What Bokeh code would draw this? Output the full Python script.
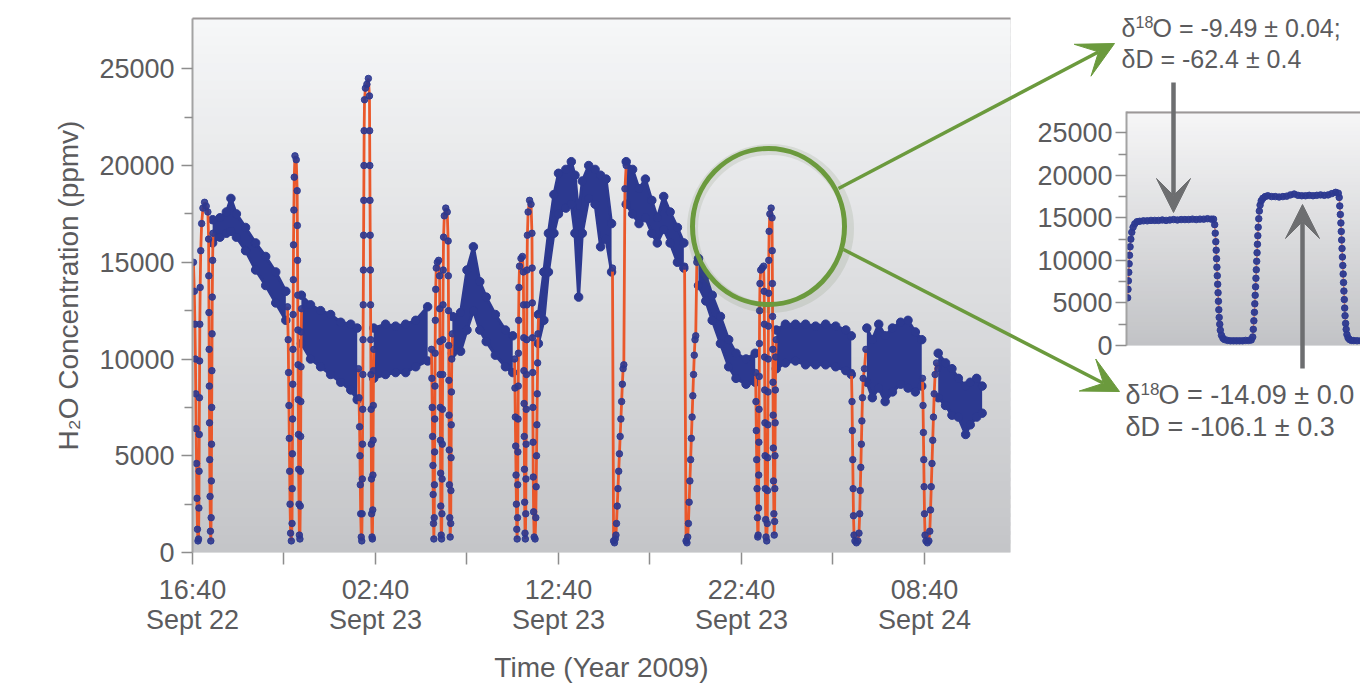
from bokeh.plotting import figure
from bokeh.models import Range1d, FixedTicker, Arrow, VeeHead, Spacer, GridBox
from bokeh.layouts import row, column
from bokeh.embed import file_html
from bokeh.resources import INLINE
from bokeh.core.properties import value

# ---------------- data ----------------
x_ticks = [0, 10, 20, 30, 40]
x_minor = [5, 15, 25, 35]
x_labels = ["16:40\nSept 22", "02:40\nSept 23", "12:40\nSept 23", "22:40\nSept 23", "08:40\nSept 24"]
y_ticks = [0, 5000, 10000, 15000, 20000, 25000]
y_minor = [2500, 7500, 12500, 17500, 22500]

# ambient air band: (hours after 16:40 Sept 22, upper edge, lower edge) in ppmv
ambient = [
    (1.10, 17200, 16000), (1.50, 17300, 16300), (1.85, 17600, 16500), (2.10, 18300, 16600),
    (2.40, 17500, 16300), (2.90, 16800, 15600), (3.45, 16000, 14600), (4.00, 15300, 13800),
    (4.55, 14500, 12900), (5.10, 13500, 12000),
    (5.95, 13300, 10800), (6.45, 12800, 10000), (7.00, 12500, 9600), (7.55, 12300, 9200),
    (8.10, 11900, 8800), (8.65, 11800, 8400), (9.00, 11600, 7900),
    (9.90, 11600, 9000), (10.55, 11800, 9200), (11.10, 11700, 9300), (11.65, 11800, 9300),
    (12.20, 12000, 9600), (12.85, 12700, 9900),
    (14.20, 12200, 10300), (14.65, 12400, 10400), (15.00, 14600, 11500), (15.35, 15800, 12500),
    (15.70, 14000, 11500), (16.05, 13200, 10900), (16.55, 12300, 10200), (17.10, 11500, 9600),
    (17.50, 11200, 9300),
    (18.90, 12300, 10800), (19.20, 14500, 12000), (19.45, 16500, 14500), (19.75, 18500, 16500),
    (20.00, 19600, 17500), (20.40, 19800, 17800), (20.70, 20200, 18000), (20.90, 19500, 16500),
    (21.10, 17500, 13200), (21.30, 19200, 16500), (21.65, 20000, 18300), (22.00, 19800, 18000),
    (22.30, 19500, 15800), (22.60, 19300, 16200), (22.90, 17000, 14500),
    (23.70, 20200, 18000), (24.05, 19800, 17500), (24.40, 18800, 17000), (24.75, 19300, 17300),
    (25.10, 18200, 16500), (25.40, 17300, 16000), (25.75, 18400, 16700), (26.10, 17600, 16000),
    (26.50, 16800, 15000), (26.85, 16000, 14700),
    (27.65, 15200, 13800), (28.05, 14300, 13000), (28.40, 13300, 12000), (28.85, 12200, 10800),
    (29.30, 11000, 9600), (29.70, 10300, 9000), (30.25, 10000, 8700), (30.75, 10300, 8800),
    (31.90, 11500, 9500), (32.40, 11800, 9800), (32.95, 11800, 9900), (33.50, 11800, 9700),
    (34.05, 11700, 9700), (34.60, 11800, 9700), (35.15, 11700, 9600), (35.70, 11500, 9400),
    (36.00, 11200, 9200),
    (36.85, 11600, 8800), (37.15, 11000, 8000), (37.50, 11800, 8500), (37.85, 11200, 7800),
    (38.25, 11600, 8300), (38.70, 11900, 8700), (39.10, 12000, 8500), (39.50, 11400, 8300),
    (39.85, 11000, 8600),
    (40.75, 10300, 8000), (41.15, 9800, 7600), (41.50, 9500, 7100), (41.85, 9000, 7000),
    (42.25, 8600, 6100), (42.50, 8800, 6600), (42.85, 9000, 7000), (43.15, 8600, 7200),
]

# calibration events: (hours, ppmv)
evA = [(0.05, 15000), (0.10, 13500), (0.13, 11800), (0.16, 10000), (0.18, 8200), (0.20, 6400),
       (0.22, 4600), (0.24, 2800), (0.27, 1200), (0.30, 600), (0.33, 700), (0.35, 2300),
       (0.36, 4200), (0.37, 6100), (0.38, 8000), (0.39, 9900), (0.40, 11800), (0.42, 13700),
       (0.45, 15600), (0.50, 17000), (0.57, 17800), (0.66, 18100), (0.75, 17900), (0.84, 17600),
       (0.88, 16200), (0.89, 14300), (0.90, 12400), (0.91, 10500), (0.92, 8600), (0.93, 6700),
       (0.94, 4800), (0.96, 2900), (0.98, 1100), (1.00, 600), (1.02, 1800), (1.03, 3700),
       (1.04, 5600), (1.05, 7500), (1.06, 9400), (1.07, 11300), (1.08, 13200), (1.10, 15100),
       (1.12, 16500)]
evB = [(5.19, 12700), (5.23, 11000), (5.25, 9300), (5.27, 7600), (5.29, 5900), (5.31, 4200),
       (5.33, 2500), (5.36, 1000), (5.40, 600), (5.44, 1500), (5.45, 3300), (5.46, 5100),
       (5.47, 6900), (5.48, 8700), (5.49, 10500), (5.50, 12300), (5.51, 14100), (5.52, 15900),
       (5.54, 17700), (5.56, 19400), (5.60, 20500), (5.67, 20300), (5.72, 18700), (5.73, 16900),
       (5.74, 15100), (5.75, 13300), (5.76, 11500), (5.77, 9700), (5.78, 7900), (5.79, 6100),
       (5.80, 4300), (5.82, 2500), (5.84, 900), (5.87, 700), (5.89, 2400), (5.90, 4200),
       (5.91, 6000), (5.92, 7800), (5.93, 9600), (5.94, 11400), (5.96, 12600)]
evC = [(9.07, 9500), (9.10, 8000), (9.13, 6500), (9.15, 5000), (9.17, 3500), (9.19, 2000),
       (9.22, 800), (9.25, 600), (9.27, 2000), (9.28, 3800), (9.29, 5600), (9.30, 7400),
       (9.31, 9200), (9.32, 11000), (9.33, 12800), (9.34, 14600), (9.35, 16400), (9.36, 18200),
       (9.37, 20000), (9.38, 21800), (9.40, 23400), (9.45, 24000), (9.53, 24200), (9.61, 24500),
       (9.67, 23600), (9.68, 21800), (9.69, 20000), (9.70, 18200), (9.71, 16400), (9.72, 14600),
       (9.73, 12800), (9.74, 11000), (9.75, 9200), (9.76, 7400), (9.77, 5600), (9.78, 3800),
       (9.79, 2000), (9.81, 800), (9.83, 700), (9.85, 2200), (9.86, 4000), (9.87, 5800),
       (9.88, 7600), (9.89, 9400), (9.91, 10500)]
evD = [(13.06, 10500), (13.08, 9000), (13.10, 7500), (13.12, 6000), (13.14, 4500), (13.15, 3000),
       (13.17, 1500), (13.19, 700), (13.21, 1800), (13.22, 3500), (13.23, 5200), (13.24, 6900),
       (13.25, 8600), (13.26, 10300), (13.27, 12000), (13.29, 13600), (13.32, 14700),
       (13.38, 15000), (13.45, 15100), (13.50, 14300), (13.51, 12600), (13.52, 10900),
       (13.53, 9200), (13.54, 7500), (13.55, 5800), (13.56, 4100), (13.57, 2400), (13.59, 900),
       (13.61, 700), (13.63, 2000), (13.64, 3800), (13.65, 5600), (13.66, 7400), (13.67, 9200),
       (13.68, 11000), (13.69, 12800), (13.70, 14600), (13.72, 16300), (13.76, 17400),
       (13.84, 17800), (13.92, 17600), (13.97, 16100), (13.98, 14300), (13.99, 12500),
       (14.00, 10700), (14.01, 8900), (14.02, 7100), (14.03, 5300), (14.04, 3500), (14.06, 1800),
       (14.08, 800), (14.11, 1500), (14.12, 3200), (14.13, 4900), (14.14, 6600), (14.15, 8300),
       (14.17, 10000), (14.20, 11300)]
evE = [(17.60, 10000), (17.62, 8500), (17.64, 7000), (17.66, 5500), (17.68, 4000), (17.70, 2500),
       (17.72, 1200), (17.74, 700), (17.76, 1800), (17.77, 3500), (17.78, 5200), (17.79, 6900),
       (17.80, 8600), (17.81, 10300), (17.82, 12000), (17.84, 13700), (17.87, 14800),
       (17.95, 15200), (18.03, 15300), (18.08, 14500), (18.09, 12800), (18.10, 11100),
       (18.11, 9400), (18.12, 7700), (18.13, 6000), (18.14, 4300), (18.15, 2600), (18.17, 1000),
       (18.19, 700), (18.21, 2000), (18.22, 3800), (18.23, 5600), (18.24, 7400), (18.25, 9200),
       (18.26, 11000), (18.27, 12800), (18.28, 14600), (18.30, 16400), (18.34, 17600),
       (18.42, 18200), (18.50, 18000), (18.55, 16500), (18.56, 14700), (18.57, 12900),
       (18.58, 11100), (18.59, 9300), (18.60, 7500), (18.61, 5700), (18.62, 3900), (18.64, 2100),
       (18.67, 800), (18.72, 700), (18.76, 1800), (18.78, 3400), (18.80, 5000), (18.82, 6600),
       (18.84, 8200), (18.86, 9800), (18.88, 11300), (18.91, 12300)]
evF = [(22.95, 14700), (23.01, 600), (23.06, 500), (23.10, 700), (23.14, 900), (23.17, 1500),
       (23.21, 2400), (23.25, 3300), (23.29, 4200), (23.33, 5100), (23.37, 6000), (23.41, 6900),
       (23.45, 7800), (23.49, 8700), (23.53, 9500), (23.57, 9700), (23.63, 18800), (23.70, 20000)]
evG = [(26.89, 14800), (26.97, 600), (27.02, 500), (27.06, 800), (27.10, 1500), (27.14, 2600),
       (27.18, 3700), (27.22, 4800), (27.26, 5900), (27.30, 7000), (27.34, 8100), (27.38, 9200),
       (27.42, 10200), (27.46, 11000), (27.50, 11200), (27.56, 15000), (27.63, 15200)]
evH = [(30.77, 9300), (30.79, 7800), (30.81, 6300), (30.83, 4800), (30.85, 3300), (30.87, 1800),
       (30.89, 800), (30.91, 900), (30.93, 2300), (30.94, 4000), (30.95, 5700), (30.96, 7400),
       (30.97, 9100), (30.98, 10800), (30.99, 12500), (31.01, 13900), (31.05, 14600),
       (31.13, 14700), (31.21, 14800), (31.24, 13500), (31.25, 11800), (31.26, 10100),
       (31.27, 8400), (31.28, 6700), (31.29, 5000), (31.30, 3300), (31.32, 1700), (31.34, 800),
       (31.38, 600), (31.41, 1500), (31.42, 3200), (31.43, 4900), (31.44, 6600), (31.45, 8300),
       (31.46, 10000), (31.47, 11700), (31.48, 13400), (31.49, 15100), (31.51, 16600),
       (31.55, 17500), (31.62, 17800), (31.67, 17300), (31.68, 15600), (31.69, 13900),
       (31.70, 12200), (31.71, 10500), (31.72, 8800), (31.73, 7100), (31.74, 5400), (31.75, 3700),
       (31.77, 2000), (31.79, 900), (31.81, 1600), (31.82, 3300), (31.83, 5000), (31.84, 6700),
       (31.85, 8400), (31.87, 10100), (31.90, 11000)]
evI = [(36.01, 9300), (36.04, 7800), (36.06, 6300), (36.08, 4800), (36.10, 3300), (36.12, 1900),
       (36.15, 900), (36.20, 600), (36.28, 500), (36.36, 600), (36.42, 1000), (36.46, 2000),
       (36.49, 3200), (36.52, 4400), (36.55, 5600), (36.58, 6800), (36.61, 8000), (36.65, 9000),
       (36.72, 9500), (36.80, 10500)]
evJ = [(39.89, 9000), (39.92, 7600), (39.94, 6200), (39.96, 4800), (39.98, 3400), (40.00, 2000),
       (40.03, 900), (40.08, 600), (40.16, 500), (40.24, 600), (40.29, 1100), (40.33, 2200),
       (40.37, 3400), (40.41, 4600), (40.45, 5800), (40.49, 7000), (40.53, 8200), (40.58, 9200),
       (40.66, 9800), (40.74, 9500)]

# inset (zoom on the 22:40 calibration): (minutes, ppmv)
inset_data = [
    (0.3, 5600), (0.4, 6600), (0.5, 7600), (0.6, 8600), (0.7, 9600), (0.8, 10600), (0.95, 11600),
    (1.15, 12500), (1.4, 13300), (1.75, 13900), (2.2, 14300), (2.8, 14550),
    (3.5, 14600), (4.5, 14650), (5.5, 14650), (6.5, 14700), (7.5, 14700), (8.5, 14700),
    (9.5, 14750), (10.5, 14700), (11.5, 14750), (12.5, 14800), (13.5, 14750), (14.5, 14800),
    (15.5, 14800), (16.5, 14800), (17.5, 14850), (18.5, 14800), (19.5, 14850), (20.5, 14850),
    (21.5, 14900), (22.5, 14850), (23.1, 14850),
    (23.4, 14200), (23.55, 13200), (23.7, 12200), (23.8, 11200), (23.9, 10200), (24.0, 9200),
    (24.1, 8200), (24.2, 7200), (24.3, 6200), (24.4, 5200), (24.5, 4200), (24.6, 3300),
    (24.75, 2500), (24.9, 1800), (25.2, 1200), (25.6, 850),
    (26.0, 700), (26.8, 600), (27.6, 550), (28.4, 550), (29.2, 550), (30.0, 550), (30.8, 550),
    (31.6, 600), (32.4, 600), (33.1, 650),
    (33.5, 1000), (33.65, 1900), (33.8, 2900), (33.95, 3900), (34.05, 4900), (34.15, 5900),
    (34.25, 6900), (34.35, 7900), (34.45, 8900), (34.55, 9900), (34.65, 10900), (34.75, 11900),
    (34.85, 12900), (34.95, 13900), (35.1, 14900), (35.25, 15800), (35.45, 16500),
    (35.75, 17000), (36.2, 17300), (36.8, 17500),
    (37.5, 17600), (38.5, 17500), (39.5, 17500), (40.5, 17450), (41.5, 17500), (42.5, 17550),
    (43.5, 17700), (44.5, 17800), (45.5, 17650), (46.5, 17600), (47.5, 17600), (48.5, 17650),
    (49.5, 17600), (50.5, 17650), (51.5, 17700), (52.5, 17650), (53.5, 17700), (54.5, 17850),
    (55.5, 18000), (56.2, 17900),
    (56.45, 17400), (56.6, 16400), (56.75, 15400), (56.9, 14400), (57.0, 13400), (57.1, 12400),
    (57.2, 11400), (57.3, 10400), (57.4, 9400), (57.5, 8400), (57.6, 7400), (57.7, 6400),
    (57.8, 5400), (57.9, 4400), (58.0, 3500), (58.15, 2600), (58.3, 1900), (58.5, 1300),
    (58.8, 900), (59.2, 700), (59.7, 600), (60.3, 580), (61.2, 560), (62.2, 560),
]

# annotation texts: prefix, superscript, rest of line
notes_top = [("δ", "18", "O = -9.49 ± 0.04;"), ("δD = -62.4 ± 0.4", "", "")]
notes_bottom = [("δ", "18", "O = -14.09 ± 0.0"), ("δD = -106.1 ± 0.3", "", "")]
x_title = "Time (Year 2009)"
y_title = "H₂O Concentration (ppmv)"

# ---------------- styles ----------------
NAVY = "#2c3990"
RED = "#ea582b"
TXT = "#5b5b5d"
TICK = "#8d8d8d"
GREEN = "#6b9a3d"
GRAY = "#6d6e70"
FONT = "Liberation Sans"
XMAX = 44.7
YMAX = 27600
IN_XMAX = 62.1
IN_YMAX = 27500


def gradient(fig, xmax, ymax, top_rgb, bot_rgb, n=60):
    bottoms, tops, cols = [], [], []
    for i in range(n):
        f = (i + 0.5) / n
        c = tuple(int(round(b + (t - b) * f)) for t, b in zip(top_rgb, bot_rgb))
        bottoms.append(ymax * i / n)
        tops.append(ymax * (i + 1.4) / n)
        cols.append("#%02x%02x%02x" % c)
    fig.quad(left=0, right=xmax, bottom=bottoms, top=tops, fill_color=cols, line_color=None)


def style_yaxis(ax):
    ax.ticker = FixedTicker(ticks=y_ticks, minor_ticks=y_minor)
    ax.axis_line_color = "#a3a3a3"
    ax.axis_line_width = 2
    ax.major_tick_line_color = TICK
    ax.minor_tick_line_color = TICK
    ax.major_tick_line_width = 1.5
    ax.minor_tick_line_width = 1.5
    ax.major_tick_in = 0
    ax.minor_tick_in = 0
    ax.major_tick_out = 11
    ax.minor_tick_out = 8
    ax.major_label_text_font = FONT
    ax.major_label_text_font_size = "27px"
    ax.major_label_text_color = TXT


# ---------------- main chart ----------------
main = figure(width=1012, height=691, x_range=Range1d(0, XMAX), y_range=Range1d(0, YMAX),
              output_backend="svg", toolbar_location=None,
              min_border_left=192, min_border_right=2, min_border_top=18, min_border_bottom=139,
              outline_line_color=None, background_fill_color="#c7c8cb", border_fill_color="white")
main.grid.visible = False
gradient(main, XMAX, YMAX, (246, 247, 248), (196, 197, 200))

segs = [[ambient[0]]]
for prev, cur in zip(ambient, ambient[1:]):
    if cur[0] - prev[0] > 0.75:
        segs.append([cur])
    else:
        segs[-1].append(cur)
for s in segs:
    t = [a[0] for a in s]
    hi = [a[1] for a in s]
    lo = [a[2] for a in s]
    main.varea(x=t, y1=lo, y2=hi, fill_color=NAVY)
    main.line(t, hi, line_color=NAVY, line_width=3)
    main.line(t, lo, line_color=NAVY, line_width=3)
    main.scatter(t + t, hi + lo, size=8.5, color=NAVY)

events = [evA, evB, evC, evD, evE, evF, evG, evH, evI, evJ]
for ev in events:
    main.line([p[0] for p in ev], [p[1] for p in ev], line_color=RED, line_width=2.8)
for ev in events:
    main.scatter([p[0] for p in ev], [p[1] for p in ev], size=6.5, color=NAVY, alpha=0.9)

xa = main.xaxis[0]
xa.ticker = FixedTicker(ticks=x_ticks, minor_ticks=x_minor)
xa.major_label_overrides = dict(zip(x_ticks, x_labels))
xa.axis_line_color = None
xa.major_tick_line_color = TICK
xa.minor_tick_line_color = TICK
xa.major_tick_line_width = 1.5
xa.minor_tick_line_width = 1.5
xa.major_tick_in = 0
xa.minor_tick_in = 0
xa.major_tick_out = 12
xa.minor_tick_out = 12
xa.major_label_standoff = 10
xa.major_label_text_font = FONT
xa.major_label_text_font_size = "27px"
xa.major_label_text_line_height = 1.0
xa.major_label_text_color = TXT
xa.axis_label = x_title
xa.axis_label_text_font = FONT
xa.axis_label_text_font_size = "28px"
xa.axis_label_text_font_style = "normal"
xa.axis_label_text_color = TXT
xa.axis_label_standoff = 14

ya = main.yaxis[0]
style_yaxis(ya)
ya.major_label_standoff = 7
ya.axis_label = y_title
ya.axis_label_text_font = FONT
ya.axis_label_text_font_size = "28px"
ya.axis_label_text_font_style = "normal"
ya.axis_label_text_color = TXT
ya.axis_label_standoff = 12

# ---------------- inset ----------------
inset = figure(width=348, height=250, x_range=Range1d(0, IN_XMAX), y_range=Range1d(0, IN_YMAX),
               output_backend="svg", toolbar_location=None, x_axis_type=None,
               min_border_left=114, min_border_right=0, min_border_top=0, min_border_bottom=16,
               outline_line_color=None, background_fill_color="#c6c7ca", border_fill_color="white")
inset.grid.visible = False
gradient(inset, IN_XMAX, IN_YMAX, (246, 246, 247), (194, 195, 198))
it = [p[0] for p in inset_data]
iv = [p[1] for p in inset_data]
inset.line(it, iv, line_color=RED, line_width=1.5, line_alpha=0.7)
inset.scatter(it, iv, size=6.5, color=NAVY, alpha=0.95)
iya = inset.yaxis[0]
style_yaxis(iya)
iya.major_label_standoff = 3

# ---------------- annotation overlay (page pixel coordinates) ----------------
ov = figure(width=1360, height=691, x_range=Range1d(0, 1360), y_range=Range1d(691, 0),
            output_backend="svg", toolbar_location=None, x_axis_type=None, y_axis_type=None,
            min_border=0, outline_line_color=None, background_fill_color=None,
            border_fill_color=None)
ov.grid.visible = False
ov.segment(x0=[192, 1126], y0=[18, 112], x1=[1010, 1360], y1=[18, 112],
           line_color="#9c9898", line_width=2)
ov.ellipse(x=[770], y=[228], width=[156], height=[158], fill_color=None,
           line_color="#4f6a3a", line_alpha=0.12, line_width=11)
ov.ellipse(x=[768], y=[226], width=[152], height=[156], fill_color=None,
           line_color=GREEN, line_width=5)
for xs, ys, xe, ye in [(838, 188, 1114, 43), (843, 249, 1119, 391)]:
    ov.add_layout(Arrow(x_start=xs, y_start=ys, x_end=xe, y_end=ye, line_color=GREEN,
                        line_width=3.5,
                        end=VeeHead(size=36, fill_color=GREEN, line_color=GREEN, line_width=1)))
for xs, ys, xe, ye in [(1173, 82, 1173, 212), (1302, 368, 1302, 204)]:
    ov.add_layout(Arrow(x_start=xs, y_start=ys, x_end=xe, y_end=ye, line_color=GRAY,
                        line_width=4.5,
                        end=VeeHead(size=34, fill_color=GRAY, line_color=GRAY, line_width=1)))


def note(x0, ys, lines, size, sup_size, sup_dx, rest_dx):
    for y, (a, sup, rest) in zip(ys, lines):
        ov.text(x=[x0], y=[y], text=[a], text_font=value(FONT), text_font_size=f"{size}px",
                text_color=TXT, text_baseline="middle", text_align="left")
        if sup:
            ov.text(x=[x0 + sup_dx], y=[y - 6], text=[sup], text_font=value(FONT),
                    text_font_size=f"{sup_size}px", text_color=TXT, text_baseline="middle",
                    text_align="left")
            ov.text(x=[x0 + rest_dx], y=[y], text=[rest], text_font=value(FONT),
                    text_font_size=f"{size}px", text_color=TXT, text_baseline="middle",
                    text_align="left")


note(1121, [27, 58], notes_top, 25, 16, 14, 31)
note(1125, [394, 426], notes_bottom, 27, 17, 15, 33)

base = row(main, column(Spacer(width=348, height=111), inset, Spacer(width=348, height=330)))
layout = GridBox(children=[(base, 0, 0), (ov, 0, 0)])

open("out.html", "w").write(file_html(layout, INLINE))
